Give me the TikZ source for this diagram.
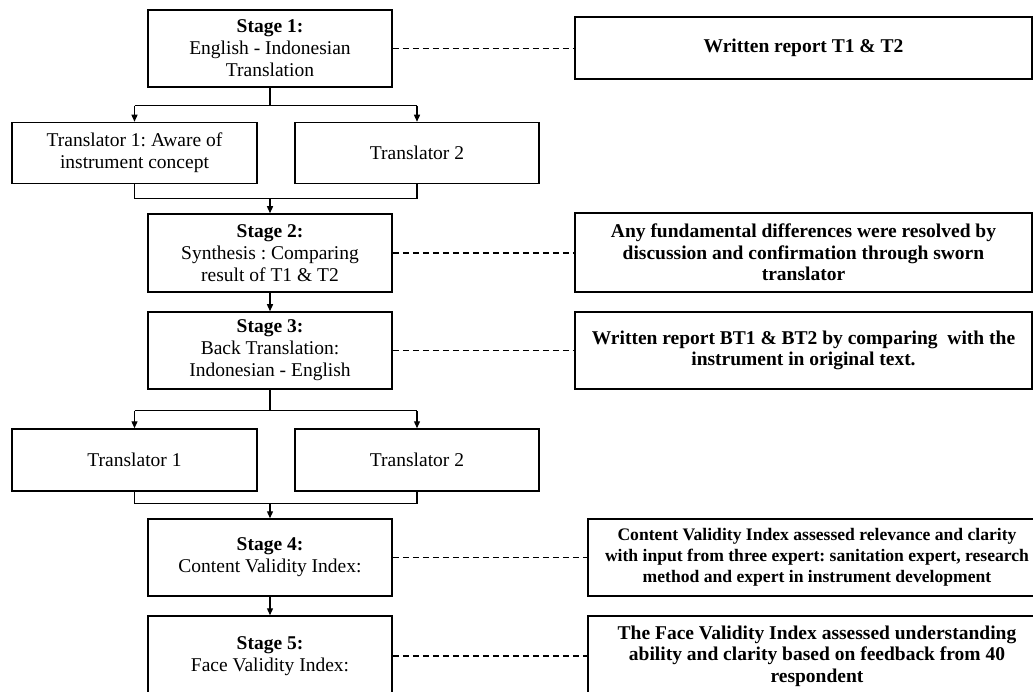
\documentclass[tikz,border=0pt]{standalone}
\usepackage{fontspec}
\setmainfont{Liberation Serif}
\usetikzlibrary{arrows.meta,calc}
\frenchspacing
\begin{document}
\begin{tikzpicture}[x=1pt,y=-1pt,
  box/.style={draw=black,line width=1.5pt,inner sep=0pt,align=center,font=\fontsize{19.5}{22}\selectfont},
  stagebox/.style={box,minimum width=244pt,minimum height=77pt},
  transbox/.style={box,minimum width=245pt,minimum height=61pt},
  notebox/.style={box,minimum width=457pt,font=\fontsize{19.5}{21.5}\selectfont\bfseries},
  link/.style={line width=1.3pt},
  arr/.style={line width=1.3pt,-{Triangle[length=7pt,width=6pt]}},
  dashlink/.style={line width=1.2pt,dash pattern=on 6pt off 4pt}]
\useasboundingbox (0,0) rectangle (1033,692);
\clip (0,0) rectangle (1033,692);
\fill[white] (0,0) rectangle (1033,692);

% stages
\node[stagebox] (s1) at (270,48.5) {\textbf{Stage 1:}\\English - Indonesian\\Translation};
\node[transbox] (t1a) at (134.5,153) {Translator 1: Aware of\\instrument concept};
\node[transbox,minimum width=244pt] (t2a) at (417,153) {Translator 2};
\node[stagebox,minimum height=78pt] (s2) at (270,253) {\textbf{Stage 2:}\\Synthesis : Comparing\\result of T1 \& T2};
\node[stagebox] (s3) at (270,350.5) {\textbf{Stage 3:}\\Back Translation:\\Indonesian - English};
\node[transbox,minimum height=62pt] (t1b) at (134.5,460) {Translator 1};
\node[transbox,minimum width=244pt,minimum height=62pt] (t2b) at (417,460) {Translator 2};
\node[stagebox] (s4) at (270,557.5) {\textbf{Stage 4:}\\Content Validity Index:};
\node[stagebox,minimum height=80pt] (s5) at (270,656) {\textbf{Stage 5:}\\Face Validity Index:};

% notes
\node[notebox,minimum height=62pt] (r1) at (803.5,48) {Written report T1 \& T2};
\node[notebox,minimum height=79pt] (r2) at (803.5,252.5) {Any fundamental differences were resolved by\\discussion and confirmation through sworn\\translator};
\node[notebox,minimum height=77pt] (r3) at (803.5,350.5) {Written report BT1 \& BT2 by comparing\ \ with the\\instrument in original text.};
\node[notebox,minimum width=458pt,minimum height=77pt,font=\fontsize{17.6}{21}\selectfont\bfseries] (r4) at (817,557.5) {Content Validity Index assessed relevance and clarity\\with input from three expert: sanitation expert, research\\method and expert in instrument development};
\node[notebox,minimum width=458pt,minimum height=80pt] (r5) at (817,656) {The Face Validity Index assessed understanding\\ability and clarity based on feedback from 40\\respondent};

% dashed links
\draw[dashlink] (s1.east) -- (r1.west |- s1.east);
\draw[dashlink] (s2.east) -- (r2.west |- s2.east);
\draw[dashlink] (s3.east) -- (r3.west |- s3.east);
\draw[dashlink] (s4.east) -- (r4.west |- s4.east);
\draw[dashlink] (s5.east) -- (r5.west |- s5.east);

% stage 1 split
\coordinate (b1) at ($(s1.south)+(0,18)$);
\draw[link] (s1.south) -- (b1);
\draw[link] (t1a.north |- b1) -- (t2a.north |- b1);
\draw[arr] (t1a.north |- b1) -- (t1a.north);
\draw[arr] (t2a.north |- b1) -- (t2a.north);
% merge to stage 2
\coordinate (m1) at ($(s2.north)+(0,-15)$);
\draw[link] (t1a.south) -- (t1a.south |- m1) -- (t2a.south |- m1) -- (t2a.south);
\draw[arr] (m1) -- (s2.north);
% stage 2 -> 3
\draw[arr] (s2.south) -- (s3.north);
% stage 3 split
\coordinate (b2) at ($(s3.south)+(0,21)$);
\draw[link] (s3.south) -- (b2);
\draw[link] (t1b.north |- b2) -- (t2b.north |- b2);
\draw[arr] (t1b.north |- b2) -- (t1b.north);
\draw[arr] (t2b.north |- b2) -- (t2b.north);
% merge to stage 4
\coordinate (m2) at ($(s4.north)+(0,-15)$);
\draw[link] (t1b.south) -- (t1b.south |- m2) -- (t2b.south |- m2) -- (t2b.south);
\draw[arr] (m2) -- (s4.north);
% stage 4 -> 5
\draw[arr] (s4.south) -- (s5.north);
\end{tikzpicture}
\end{document}
